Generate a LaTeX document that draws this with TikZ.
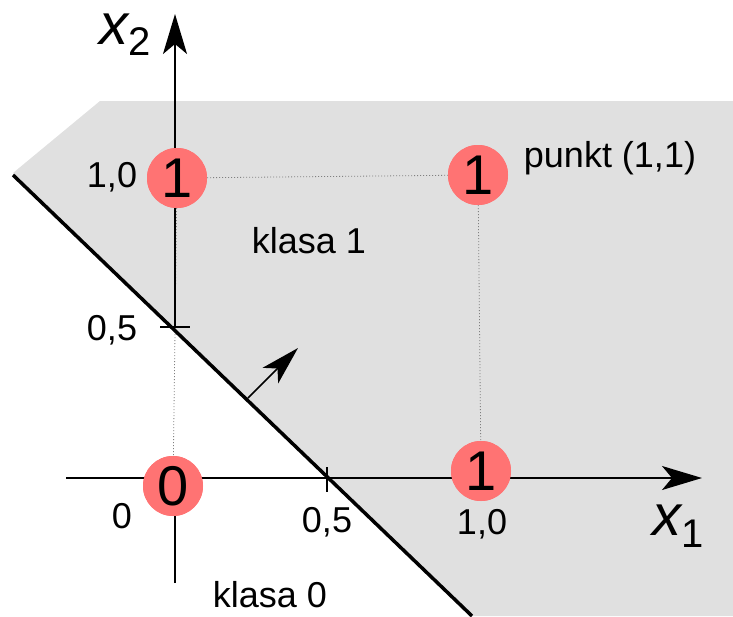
\documentclass[tikz,border=0pt]{standalone}
\usepackage{fontspec}
\setmainfont{Liberation Sans}
\usetikzlibrary{arrows.meta}
\definecolor{regiongray}{RGB}{224,224,224}
\definecolor{dotred}{RGB}{255,115,115}
\begin{document}
\begin{tikzpicture}[x=1pt,y=-1pt,
  lbl/.style={inner sep=0pt, anchor=base, font=\fontsize{36}{40}\selectfont},
  dotnode/.style={circle, fill=dotred, minimum size=60pt, inner sep=0pt, font=\fontsize{56}{60}\selectfont},
  axisline/.style={line width=1.8pt},
  axisarrow/.style={line width=1.8pt, -{Stealth[length=40pt,width=24pt,inset=10pt]}},
  guide/.style={gray, line width=0.8pt, dash pattern=on 1pt off 2pt},
  ]
\useasboundingbox (0,0) rectangle (733,616);
% shaded half-plane
\fill[regiongray] (13,173) -- (100,101) -- (733,101) -- (733,616) -- (472,616) -- cycle;
% coordinates
\coordinate (xs) at (66,478);
\coordinate (xe) at (702,478);
\coordinate (ys) at (175,583);
\coordinate (yc) at (175,486);
\coordinate (ye) at (175,14);
\coordinate (yt) at (175,328);
\coordinate (la) at (13,175);
\coordinate (lb) at (472,616);
\coordinate (nb) at (248,398);
\coordinate (nt) at (298,348);
\coordinate (tyl) at (160,327);
\coordinate (tyr) at (190,327);
\coordinate (txt) at (327,467);
\coordinate (txb) at (327,492);
% circles (placed first so guides can refer to them)
\node[dotnode] (c00) at (173,486) {0};
\node[dotnode] (c01) at (177,178) {1};
\node[dotnode] (c11) at (478,175) {1};
\node[dotnode] (c10) at (481,471) {1};
% guides
\draw[guide] (c01) -- (c11);
\draw[guide] (c11) -- (c10);
\draw[guide] (c01) -- (c00);
% axes
\draw[axisarrow] (xs) -- (xe);
\draw[axisline] (ys) -- (yc);
\draw[axisarrow] (yt) -- (ye);
\draw[axisline] (tyl) -- (tyr);
\draw[axisline] (txt) -- (txb);
% decision line and normal
\draw[line width=3.5pt] (la) -- (lb);
\draw[line width=1.6pt, -{Stealth[length=39pt,width=22pt,inset=10pt]}] (nb) -- (nt);
% redraw circles on top
\node[dotnode] at (c00) {0};
\node[dotnode] at (c01) {1};
\node[dotnode] at (c11) {1};
\node[dotnode] at (c10) {1};
% labels
\node[lbl] (l10y) at (112,187) {1,0};
\node[lbl] (l05y) at (112,340) {0,5};
\node[lbl] (l0) at (122,528) {0};
\node[lbl] (l05x) at (327,532) {0,5};
\node[lbl] (l10x) at (482,534) {1,0};
\node[lbl] (k1) at (309,253) {klasa 1};
\node[lbl] (k0) at (270,607) {klasa 0};
\node[lbl] (pt) at (610,167) {punkt (1,1)};
\node[inner sep=0pt, anchor=base west] (x1) at (652,535) {{\fontsize{58}{60}\selectfont\itshape x}\raisebox{-12pt}{\fontsize{40}{44}\selectfont 1}};
\node[inner sep=0pt, anchor=base west] (x2) at (99,44) {{\fontsize{58}{60}\selectfont\itshape x}\raisebox{-11pt}{\fontsize{40}{44}\selectfont 2}};
\end{tikzpicture}
\end{document}
